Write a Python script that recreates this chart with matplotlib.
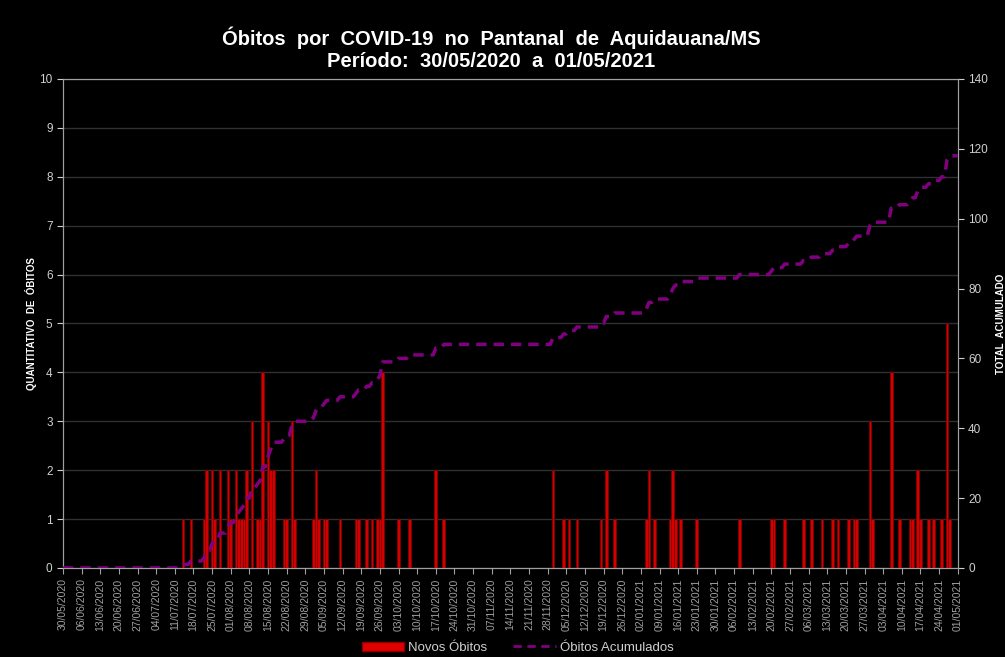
import pandas as pd
import matplotlib
matplotlib.use('Agg')
import matplotlib.pyplot as plt
import matplotlib.dates as mdates
from matplotlib.lines import Line2D
from matplotlib.patches import Patch

plt.rcParams['font.family'] = ['Liberation Sans', 'DejaVu Sans']

# dados (dias com obitos)
datas = ['14/07/2020', '17/07/2020', '22/07/2020', '23/07/2020', '25/07/2020', '26/07/2020',
         '28/07/2020', '31/07/2020', '01/08/2020', '03/08/2020', '04/08/2020', '05/08/2020',
         '06/08/2020', '07/08/2020', '09/08/2020', '11/08/2020', '12/08/2020', '13/08/2020',
         '15/08/2020', '16/08/2020', '17/08/2020', '21/08/2020', '22/08/2020', '24/08/2020',
         '25/08/2020', '01/09/2020', '02/09/2020', '03/09/2020', '05/09/2020', '06/09/2020',
         '11/09/2020', '17/09/2020', '18/09/2020', '21/09/2020', '23/09/2020', '25/09/2020',
         '26/09/2020', '27/09/2020', '03/10/2020', '07/10/2020', '17/10/2020', '20/10/2020',
         '30/11/2020', '04/12/2020', '06/12/2020', '09/12/2020', '18/12/2020', '20/12/2020',
         '23/12/2020', '04/01/2021', '05/01/2021', '07/01/2021', '13/01/2021', '14/01/2021',
         '15/01/2021', '17/01/2021', '23/01/2021', '08/02/2021', '20/02/2021', '21/02/2021',
         '25/02/2021', '04/03/2021', '07/03/2021', '11/03/2021', '15/03/2021', '17/03/2021',
         '21/03/2021', '23/03/2021', '24/03/2021', '29/03/2021', '30/03/2021', '06/04/2021',
         '09/04/2021', '13/04/2021', '14/04/2021', '16/04/2021', '17/04/2021', '20/04/2021',
         '22/04/2021', '25/04/2021', '27/04/2021', '28/04/2021']
obitos = [1, 1, 1, 2, 2, 1,
          2, 2, 1, 2, 1, 1,
          1, 2, 3, 1, 1, 4,
          3, 2, 2, 1, 1, 3,
          1, 1, 2, 1, 1, 1,
          1, 1, 1, 1, 1, 1,
          1, 4, 1, 1, 2, 1,
          2, 1, 1, 1, 1, 2,
          1, 1, 2, 1, 1, 2,
          1, 1, 1, 1, 1, 1,
          1, 1, 1, 1, 1, 1,
          1, 1, 1, 3, 1, 4,
          1, 1, 1, 2, 1, 1,
          1, 1, 5, 1]

inicio = pd.Timestamp('2020-05-30')
fim = pd.Timestamp('2021-05-01')

dias = pd.date_range(inicio, fim, freq='D')
serie = pd.Series(0, index=dias)
serie.loc[pd.to_datetime(datas, dayfirst=True)] = obitos
acumulado = serie.cumsum()

cinza = '#d0d0d0'

fig = plt.figure(figsize=(10.05, 6.57), dpi=100, facecolor='black')
ax = fig.add_axes([0.0627, 0.1355, 0.8903, 0.7443])
ax.set_facecolor('black')

ax.bar(serie.index, serie.values, width=1.0, color='#d40000',
       edgecolor='#800000', linewidth=0.6, zorder=3)
ax.set_ylim(0, 10)
ax.set_yticks(range(0, 11))
ax.grid(axis='y', color='#303030', linewidth=1, zorder=0)
ax.set_xlim(inicio, fim)

ticks = pd.date_range(inicio, fim, freq='7D')
ax.set_xticks(ticks)
ax.xaxis.set_major_formatter(mdates.DateFormatter('%d/%m/%Y'))
plt.setp(ax.get_xticklabels(), rotation=90, fontsize=7.5, color=cinza)
ax.tick_params(axis='y', colors=cinza, labelsize=8.5, length=4)
ax.tick_params(axis='x', colors='#a0a0a0', length=4)
ax.set_ylabel('QUANTITATIVO  DE  ÓBITOS', color='white', fontsize=7,
              fontweight='bold', labelpad=2)

ax2 = ax.twinx()
ax2.plot(dias, acumulado.values, color='#800080', linewidth=2.5,
         linestyle=(0, (3, 2)), zorder=4)
ax2.set_ylim(0, 140)
ax2.set_yticks(range(0, 141, 20))
ax2.tick_params(axis='y', colors=cinza, labelsize=8.5, length=4)
ax2.set_ylabel('TOTAL  ACUMULADO', color='white', fontsize=7,
               fontweight='bold', labelpad=6)

for a in (ax, ax2):
    for s in a.spines.values():
        s.set_color('#a0a0a0')

fig.text(0.489, 0.942, 'Óbitos  por  COVID-19  no  Pantanal  de  Aquidauana/MS',
         ha='center', va='center', color='white', fontsize=14.5, fontweight='bold')
fig.text(0.489, 0.906, 'Período:  30/05/2020  a  01/05/2021',
         ha='center', va='center', color='white', fontsize=14.5, fontweight='bold')

handles = [Patch(facecolor='#e00000', edgecolor='#8a0000'),
           Line2D([0], [0], color='#800080', linewidth=2, linestyle=(0, (3, 2)))]
fig.legend(handles, ['Novos Óbitos', 'Óbitos Acumulados'], loc='center',
           bbox_to_anchor=(0.515, 0.014), ncol=2, frameon=False, fontsize=9.5,
           labelcolor=cinza, handlelength=3.2, handletextpad=0.3, columnspacing=2)

fig.savefig('out.png', dpi=100, facecolor='black')
